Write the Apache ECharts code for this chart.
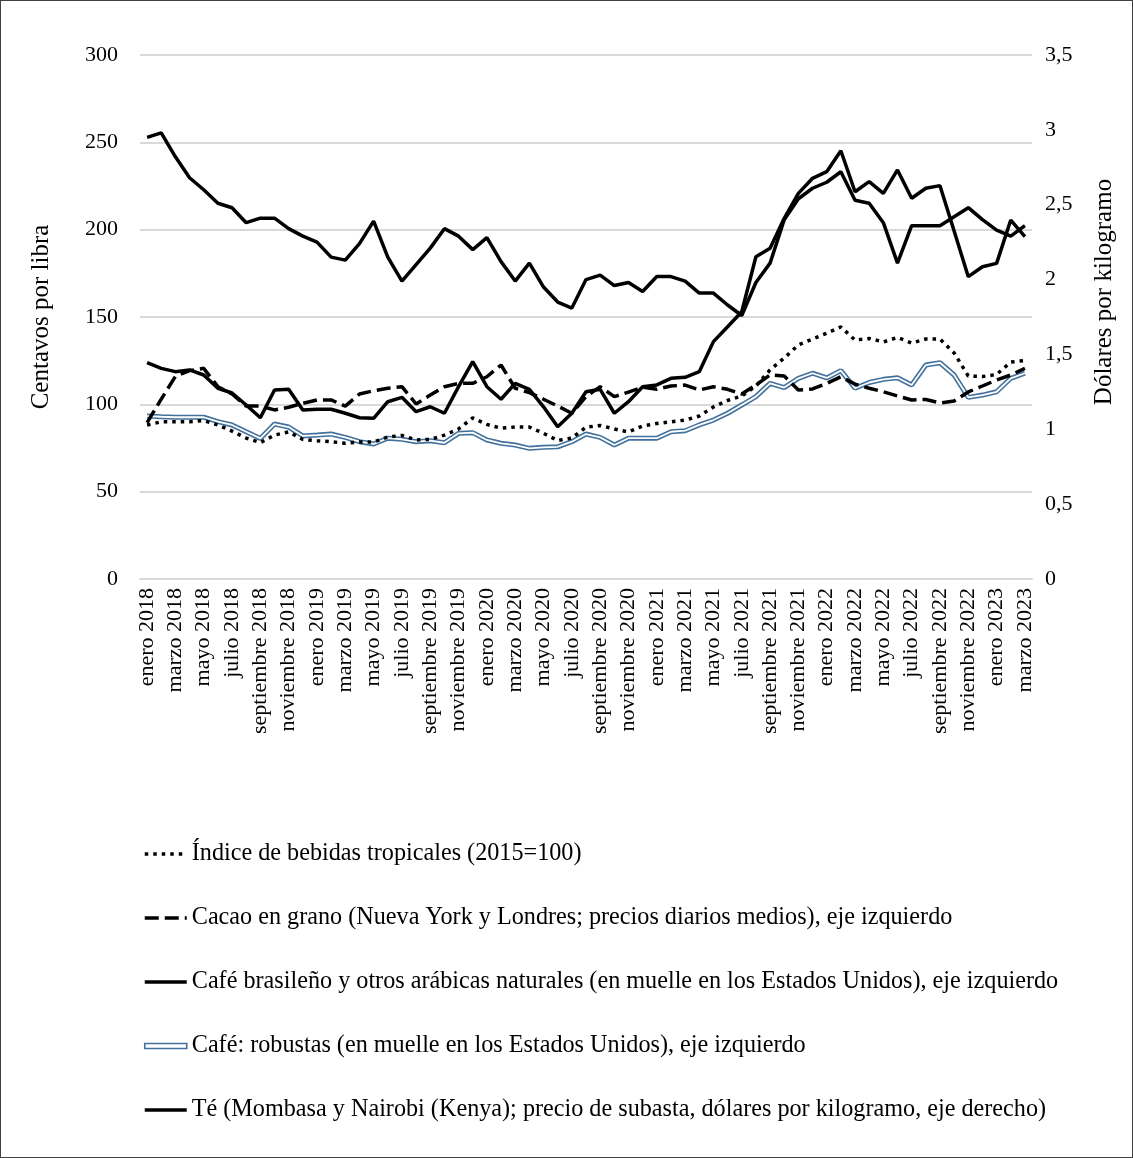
<!DOCTYPE html>
<html><head><meta charset="utf-8">
<script src="https://cdn.jsdelivr.net/npm/echarts@6/dist/echarts.min.js"></script>
<style>
html,body{margin:0;padding:0;background:#fff}
#c{position:absolute;left:0;top:0;width:1133px;height:1158px}
#frame{position:absolute;left:0;top:0;width:1133px;height:1158px;box-sizing:border-box;border:1px solid #404040;pointer-events:none}
</style>
</head><body><div id="c"></div><div id="frame"></div>
<script>
// Categories
const meses = ['enero','febrero','marzo','abril','mayo','junio','julio','agosto','septiembre','octubre','noviembre','diciembre'];
const anios = [2018, 2019, 2020, 2021, 2022, 2023];
const categorias = [];
anios.forEach(a => meses.forEach(m => { if (categorias.length < 63) categorias.push(m + ' ' + a); }));

// Series values
const indice = [88.2, 90, 90, 90, 90.7, 88.2, 84.7, 80.7, 78.1, 82.4,
  84.2, 79.9, 79.2, 78.6, 77.7, 78.4, 78.4, 81.3, 82.2, 79.6,
  79.9, 82.4, 85.9, 92.2, 88.5, 86.3, 87, 87, 83.4, 79.3,
  80.7, 86.9, 87.9, 85.9, 84.2, 87.6, 89, 90, 91, 93.3,
  98.5, 102.2, 104.8, 110.5, 119.7, 126.5, 134, 137.4, 140.7, 144.3,
  136.8, 137.7, 135.7, 138.3, 135.1, 137.4, 137.4, 129.4, 116.2, 115.9,
  117.1, 124.2, 125.1];
const cacao = [89.5, 103, 116, 119.3, 120.6, 110.1, 105.9, 99, 99, 96.8,
  98.3, 100.6, 102.5, 102.5, 99, 105.9, 107.8, 109.2, 110.1, 100.2,
  105.3, 110.1, 112, 112, 115.8, 122.5, 109.2, 106.7, 102.9, 99,
  94.9, 104.4, 110.1, 104.4, 107, 109.8, 108.6, 110.5, 111, 108.2,
  110.1, 108.6, 105.9, 111.1, 116.8, 116.2, 108.2, 108.8, 112, 115.8,
  111.6, 109.2, 107.2, 104.8, 102.5, 102.8, 100.8, 101.9, 107.1, 110.5,
  113.9, 116.8, 120.6];
const arabica = [123.9, 120.6, 118.7, 119.7, 116.8, 109.2, 106.5, 99.6, 92.3, 108.2,
  108.6, 96.8, 97.2, 97.2, 94.9, 92.3, 92, 101.5, 104, 95.8,
  98.6, 94.9, 110.1, 124.4, 110.1, 102.9, 112, 108.6, 98.6, 87.2,
  94.9, 107.2, 108.6, 94.9, 101.5, 110.1, 111.1, 114.9, 115.5, 118.7,
  135.9, 144.4, 153, 184.5, 189.3, 206.5, 220.8, 229.4, 233.2, 245.2,
  221.7, 227.5, 220.8, 234.2, 218, 223.7, 225.2, 199.2, 173.1, 178.8,
  180.7, 205.5, 196];
const robusta = [93.3, 92.9, 92.6, 92.6, 92.6, 90.1, 88.2, 84.3, 80.5, 88.7,
  87, 81.9, 82.4, 83, 81.1, 78.6, 77.3, 80.6, 80, 78.6,
  79.2, 78, 83.4, 83.8, 79.6, 77.7, 76.7, 74.8, 75.4, 75.7,
  78.6, 83, 81.1, 76.7, 80.6, 80.6, 80.6, 84.3, 84.9, 88.2,
  91, 94.9, 99.6, 104.4, 112, 109.6, 114.9, 117.8, 115.1, 119.3,
  109.2, 112.5, 114.3, 115.2, 111.1, 122.5, 123.8, 116.8, 104, 105.3,
  107.2, 114.9, 117.8];
const te = [2.95, 2.98, 2.82, 2.68, 2.60, 2.51, 2.48, 2.38, 2.41, 2.41,
  2.34, 2.29, 2.25, 2.15, 2.13, 2.24, 2.39, 2.15, 1.99, 2.10,
  2.21, 2.34, 2.29, 2.20, 2.28, 2.12, 1.99, 2.11, 1.95, 1.85,
  1.81, 2.00, 2.03, 1.96, 1.98, 1.92, 2.02, 2.02, 1.99, 1.91,
  1.91, 1.83, 1.76, 1.98, 2.11, 2.40, 2.54, 2.61, 2.65, 2.72,
  2.53, 2.51, 2.38, 2.11, 2.36, 2.36, 2.36, 2.42, 2.48, 2.40,
  2.33, 2.29, 2.36];

// Names
const nIndice = 'Índice de bebidas tropicales (2015=100)';
const nCacao = 'Cacao en grano (Nueva York y Londres; precios diarios medios), eje izquierdo';
const nArabica = 'Café brasileño y otros arábicas naturales (en muelle en los Estados Unidos), eje izquierdo';
const nRobusta = 'Café: robustas (en muelle en los Estados Unidos), eje izquierdo';
const nTe = 'Té (Mombasa y Nairobi (Kenya); precio de subasta, dólares por kilogramo, eje derecho)';

const FONT = "'Liberation Serif', 'Times New Roman', serif";
const BLUE = '#41719c';

const chart = echarts.init(document.getElementById('c'), null, {renderer: 'canvas'});
chart.setOption({
  animation: false,
  backgroundColor: '#fff',
  textStyle: {fontFamily: FONT, color: '#000'},
  grid: {left: 140, right: 101, top: 55, bottom: 579, containLabel: false},
  legend: {
    orient: 'vertical', left: 138, top: 837, itemGap: 40,
    itemWidth: 42, itemHeight: 14,
    itemStyle: {opacity: 0},
    lineStyle: {width: 3.5},
    textStyle: {fontFamily: FONT, fontSize: 24.2, color: '#000', lineHeight: 24},
    selectedMode: false,
    data: [
      {name: nIndice}, {name: nCacao}, {name: nArabica},
      {name: nRobusta, icon: 'path://M0,0H84V10H0Z', itemStyle: {opacity: 1, color: '#fff', borderColor: BLUE, borderWidth: 1.6}},
      {name: nTe}
    ]
  },
  xAxis: {
    type: 'category', data: categorias, boundaryGap: true,
    axisLine: {show: true, lineStyle: {color: '#d9d9d9', width: 2}},
    axisTick: {show: false},
    axisLabel: {interval: 1, rotate: 90, margin: 9, fontFamily: FONT, fontSize: 22, color: '#000'}
  },
  yAxis: [
    {
      type: 'value', min: 0, max: 300, interval: 50,
      name: 'Centavos por libra', nameLocation: 'middle', nameGap: 86, nameRotate: 90,
      nameTextStyle: {fontFamily: FONT, fontSize: 25, color: '#000'},
      axisLine: {show: false}, axisTick: {show: false},
      axisLabel: {margin: 22, fontFamily: FONT, fontSize: 22, color: '#000'},
      splitLine: {lineStyle: {color: '#d9d9d9', width: 2}}
    },
    {
      type: 'value', min: 0, max: 3.5, interval: 0.5, position: 'right',
      name: 'Dólares por kilogramo', nameLocation: 'middle', nameGap: 60, nameRotate: 90,
      nameTextStyle: {fontFamily: FONT, fontSize: 25, color: '#000', padding: [0, 0, 0, 50]},
      axisLine: {show: false}, axisTick: {show: false},
      axisLabel: {margin: 13, fontFamily: FONT, fontSize: 22, color: '#000',
        formatter: v => String(v).replace('.', ',')},
      splitLine: {show: false}
    }
  ],
  series: [
    {name: nIndice, type: 'line', data: indice, yAxisIndex: 0, symbol: 'none', showSymbol: false,
     lineStyle: {color: '#000', width: 3.5, type: [3.5, 5]}, itemStyle: {color: '#000'}, z: 3},
    {name: nCacao, type: 'line', data: cacao, yAxisIndex: 0, symbol: 'none', showSymbol: false,
     lineStyle: {color: '#000', width: 3.5, type: [14, 6]}, itemStyle: {color: '#000'}, z: 3},
    {name: nArabica, type: 'line', data: arabica, yAxisIndex: 0, symbol: 'none', showSymbol: false,
     lineStyle: {color: '#000', width: 3.5}, itemStyle: {color: '#000'}, z: 4},
    {name: nRobusta, type: 'line', data: robusta, yAxisIndex: 0, symbol: 'none', showSymbol: false,
     lineStyle: {color: BLUE, width: 5}, itemStyle: {color: BLUE}, z: 2},
    {name: 'robusta-interior', type: 'line', data: robusta, yAxisIndex: 0, symbol: 'none', showSymbol: false,
     lineStyle: {color: '#fff', width: 1.8}, itemStyle: {color: '#fff'}, z: 2},
    {name: nTe, type: 'line', data: te, yAxisIndex: 1, symbol: 'none', showSymbol: false,
     lineStyle: {color: '#000', width: 3.5}, itemStyle: {color: '#000'}, z: 4}
  ]
});
</script></body></html>
